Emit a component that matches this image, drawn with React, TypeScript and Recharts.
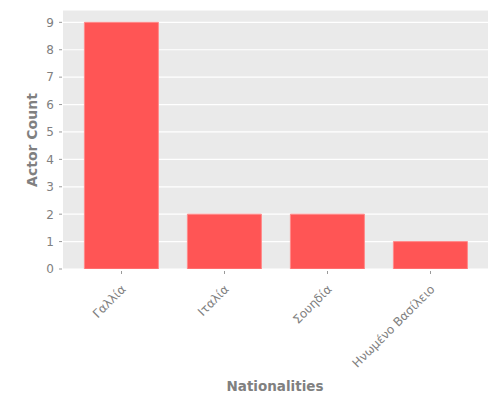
import React from "react";
import { BarChart, Bar, XAxis, YAxis, CartesianGrid, Label } from "recharts";

const nationalities = ["Γαλλία", "Ιταλία", "Σουηδία", "Ηνωμένο Βασίλειο"];
const actorCounts = [9, 2, 2, 1];
const yTicks = [0, 1, 2, 3, 4, 5, 6, 7, 8, 9];

const data = nationalities.map((name, i) => ({ name, count: actorCounts[i] }));

const FONT = "'DejaVu Sans', sans-serif";
const GREY = "#808080";

const XTick = (props: any) => {
    const { x, y, payload } = props;
    const tx = x + 5;
    const ty = y + 15;
    return (
        <g>
            <line x1={x} x2={x} y1={y - 4} y2={y - 1} stroke="#9a9a9a" />
            <text
                x={tx}
                y={ty}
                transform={`rotate(-45, ${tx}, ${ty})`}
                textAnchor="end"
                fontSize={12}
                fontFamily={FONT}
                fill={GREY}
            >
                {payload.value}
            </text>
        </g>
    );
};

const YTick = (props: any) => {
    const { x, y, payload } = props;
    return (
        <g>
            <line x1={x + 2} x2={x + 5} y1={y} y2={y} stroke="#9a9a9a" />
            <text x={x - 3} y={y} dy="0.36em" textAnchor="end" fontSize={12} fontFamily={FONT} fill={GREY}>
                {payload.value}
            </text>
        </g>
    );
};

const App: React.FC = () => {
    return (
        <div style={{ position: "absolute", left: 0, top: 0, background: "#fff" }}>
            <BarChart
                width={500}
                height={400}
                data={data}
                margin={{ top: 10, right: 12, left: 0, bottom: 0 }}
                barCategoryGap="14%"
            >
                <CartesianGrid vertical={false} stroke="#ffffff" strokeWidth={1.2} fill="#eaeaea" />
                <XAxis
                    dataKey="name"
                    height={131}
                    axisLine={false}
                    tickLine={false}
                    interval={0}
                    padding={{ left: 7, right: 6 }}
                    tick={<XTick />}
                    tickMargin={0}
                >
                    <Label
                        content={() => (
                            <text x={275} y={391} textAnchor="middle" fontSize={13.5} fontWeight="bold" fontFamily={FONT} fill={GREY}>
                                Nationalities
                            </text>
                        )}
                    />
                </XAxis>
                <YAxis
                    width={63}
                    domain={[0, 9.45]}
                    ticks={yTicks}
                    axisLine={false}
                    tickLine={false}
                    tick={<YTick />}
                    tickMargin={0}
                    allowDataOverflow
                >
                    <Label
                        content={() => (
                            <text
                                x={37}
                                y={140}
                                transform="rotate(-90, 37, 140)"
                                textAnchor="middle"
                                fontSize={14}
                                fontWeight="bold"
                                fontFamily={FONT}
                                fill={GREY}
                            >
                                Actor Count
                            </text>
                        )}
                    />
                </YAxis>
                <Bar dataKey="count" fill="#ff5555" stroke="#ff8a8a" strokeWidth={1} isAnimationActive={false} />
            </BarChart>
        </div>
    );
};

export default App;
